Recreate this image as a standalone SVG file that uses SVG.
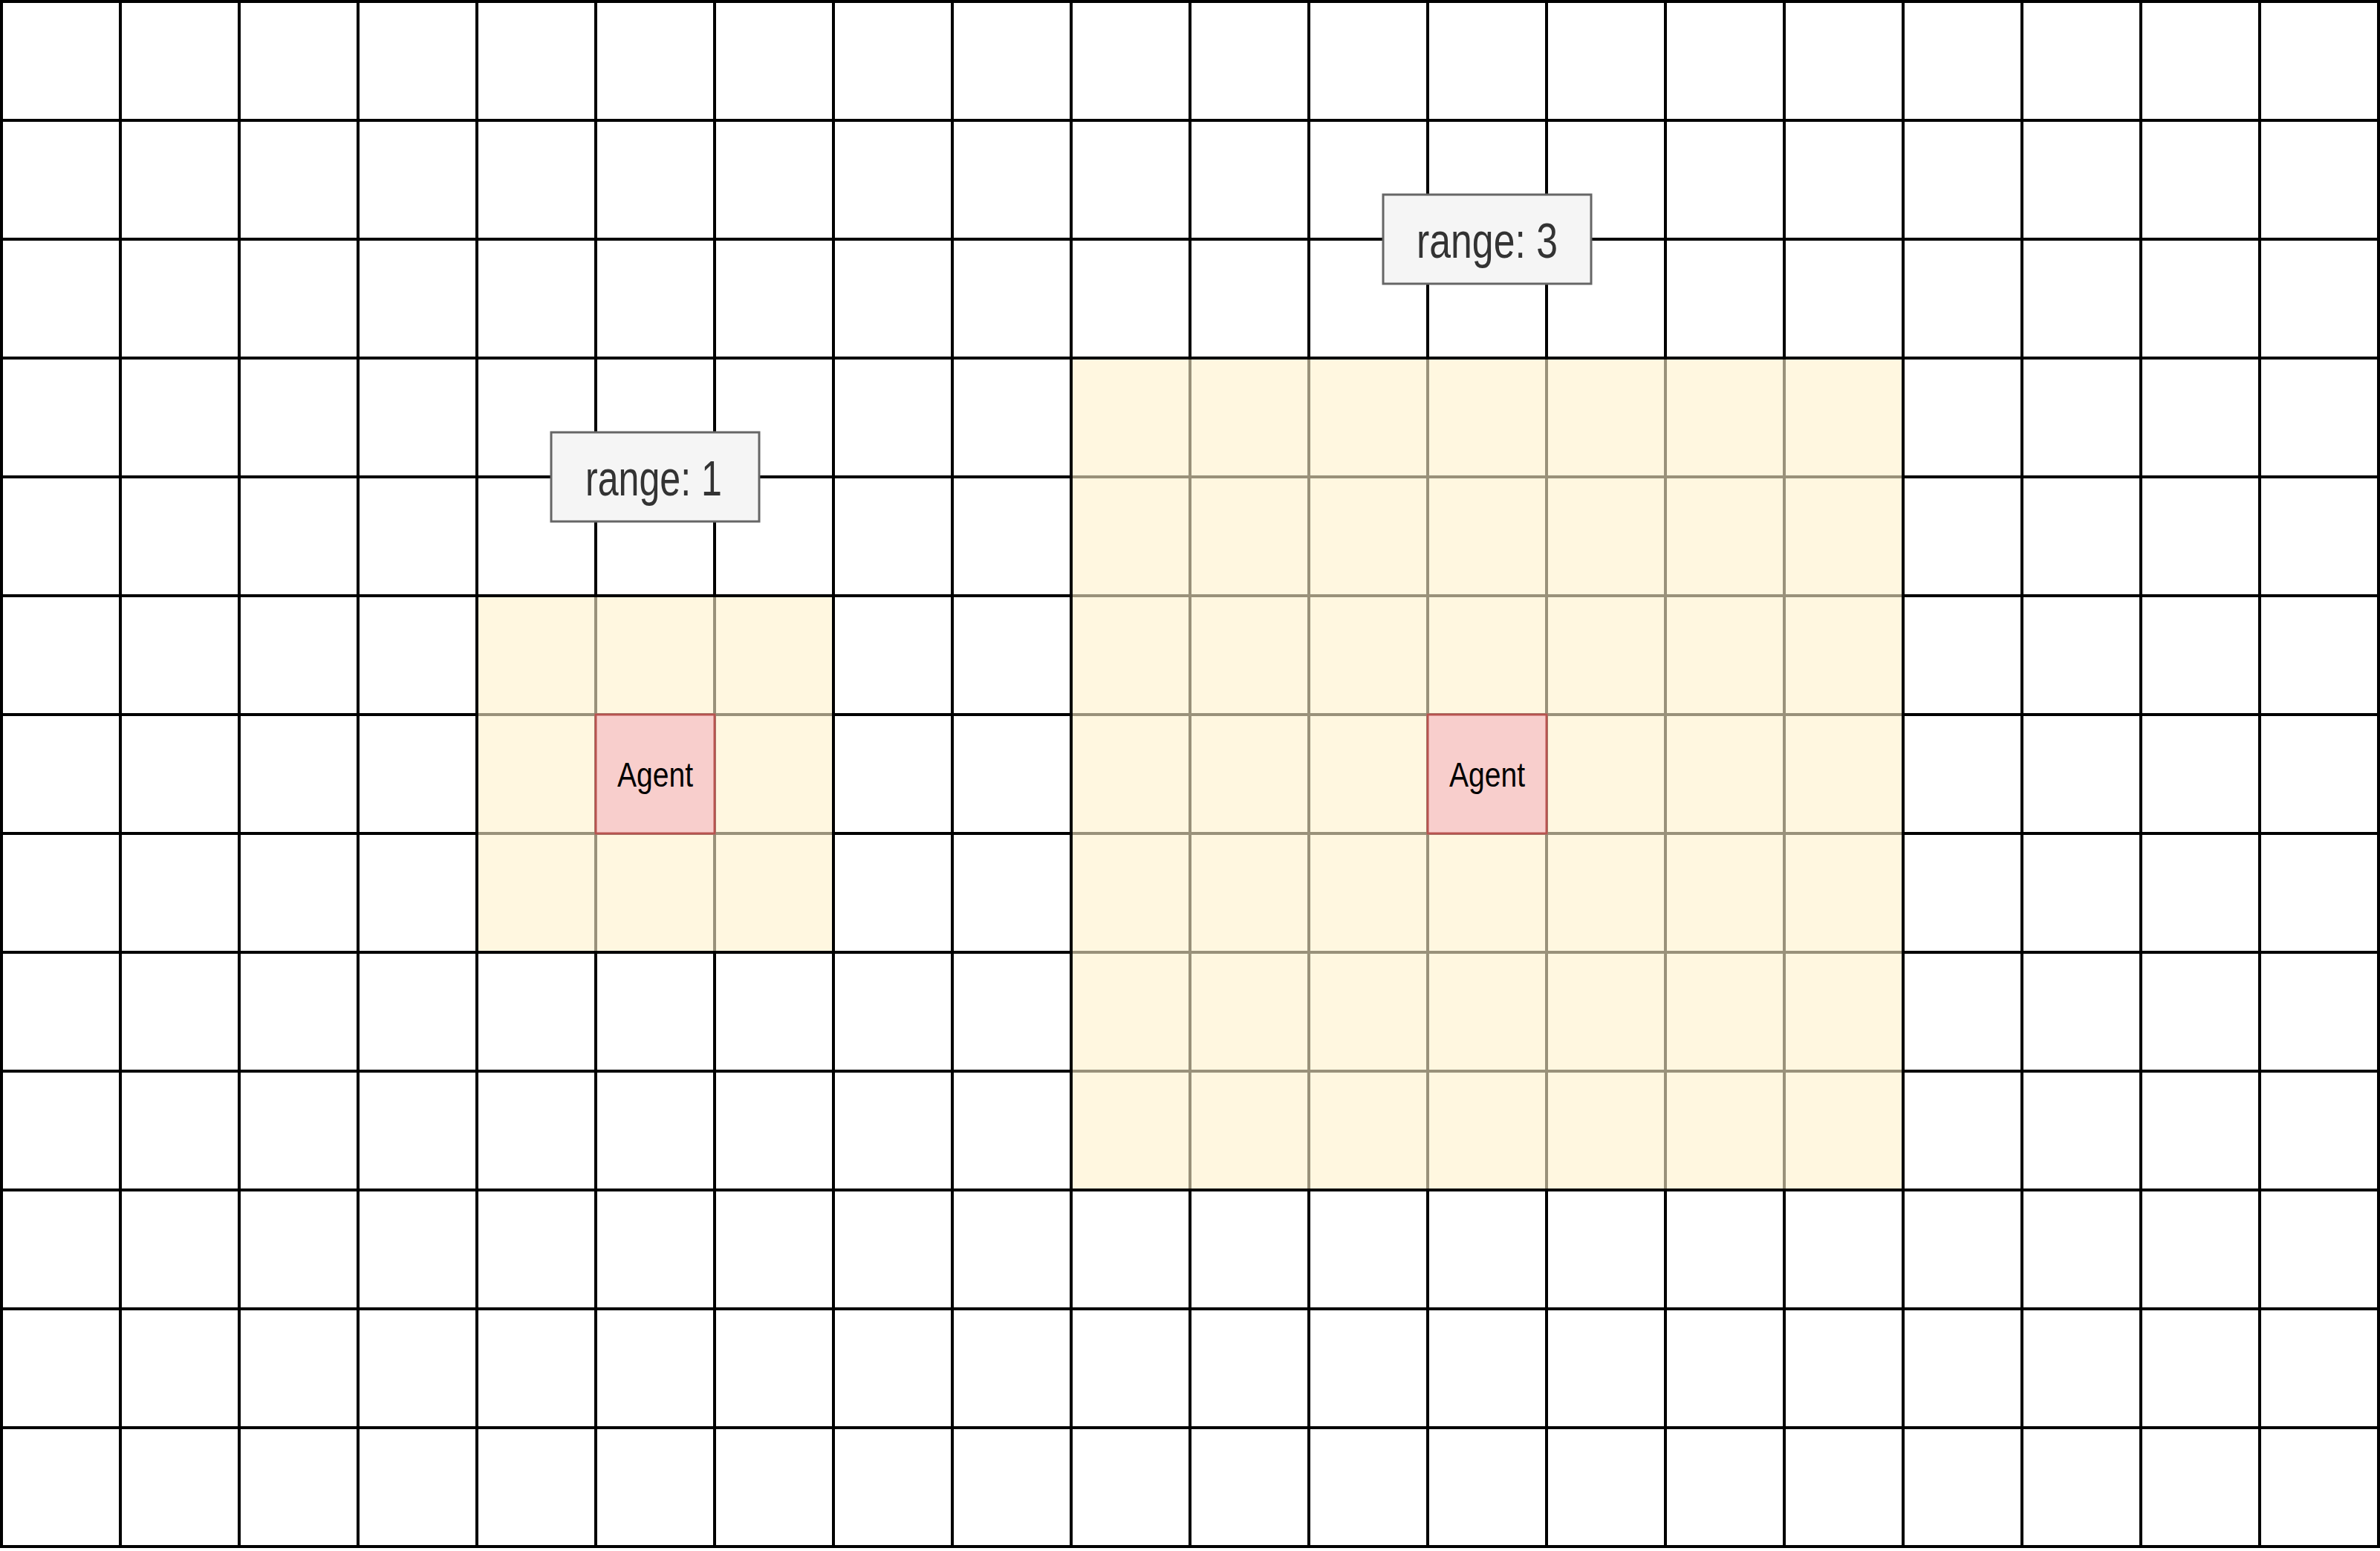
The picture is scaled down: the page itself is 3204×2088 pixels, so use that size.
<svg xmlns="http://www.w3.org/2000/svg" width="3204" height="2088" viewBox="0 0 3204 2088">
<style>
.grid{stroke:#000;stroke-width:4;fill:none}
.zone{fill:#fff2cc;fill-opacity:0.6;stroke:none}
.agent rect{fill:#f8cecc;stroke:#b85450;stroke-width:3}
.agent text{font-family:"Liberation Sans",Arial,sans-serif;font-size:46px;fill:#000;text-anchor:middle}
.label rect{fill:#f5f5f5;stroke:#666;stroke-width:3}
.label text{font-family:"Liberation Sans",Arial,sans-serif;font-size:66px;fill:#333;text-anchor:middle}
</style>
<rect x="0" y="0" width="3204" height="2088" fill="#fff"/>
<g id="grid">
<path class="grid" d="M2 0V2084M162 0V2084M322 0V2084M482 0V2084M642 0V2084M802 0V2084M962 0V2084M1122 0V2084M1282 0V2084M1442 0V2084M1602 0V2084M1762 0V2084M1922 0V2084M2082 0V2084M2242 0V2084M2402 0V2084M2562 0V2084M2722 0V2084M2882 0V2084M3042 0V2084M3202 0V2084
M0 2H3204M0 162H3204M0 322H3204M0 482H3204M0 642H3204M0 802H3204M0 962H3204M0 1122H3204M0 1282H3204M0 1442H3204M0 1602H3204M0 1762H3204M0 1922H3204M0 2082H3204"/>
</g>
<g id="range1-area"><rect class="zone" x="644" y="804" width="476" height="476"/></g>
<g id="range3-area"><rect class="zone" x="1444" y="484" width="1116" height="1116"/></g>
<g id="connectors"/>
<g id="agent1" class="agent">
<rect x="802" y="962" width="160" height="160"/>
<text x="882" y="1059" textLength="102" lengthAdjust="spacingAndGlyphs">Agent</text>
</g>
<g id="agent2" class="agent">
<rect x="1922" y="962" width="160" height="160"/>
<text x="2002" y="1059" textLength="102" lengthAdjust="spacingAndGlyphs">Agent</text>
</g>
<g id="label-range1" class="label">
<rect x="742" y="582" width="280" height="120"/>
<text x="880" y="667" textLength="184" lengthAdjust="spacingAndGlyphs">range: 1</text>
</g>
<g id="label-range3" class="label">
<rect x="1862" y="262" width="280" height="120"/>
<text x="2002" y="347" textLength="190" lengthAdjust="spacingAndGlyphs">range: 3</text>
</g>
</svg>
